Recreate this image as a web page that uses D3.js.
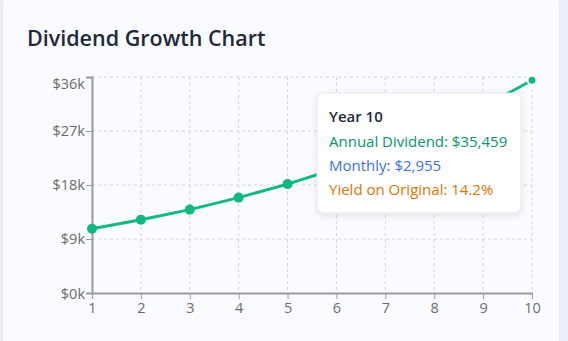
<!DOCTYPE html>
<html>
<head>
<meta charset="utf-8">
<script src="https://cdn.jsdelivr.net/npm/d3@7/dist/d3.min.js"></script>
<style>
  html, body { margin: 0; padding: 0; }
  body { width: 568px; height: 341px; background: #eceef9; overflow: hidden; font-family: "Open Sans", "Noto Sans", sans-serif; }
  .card { position: absolute; left: 2px; top: -8px; width: 558px; height: 360px; background: #fafbfe; border-radius: 12px; border: 1px solid #e6e9f3; box-sizing: border-box; }
  svg { position: absolute; left: 0; top: 0; }
</style>
</head>
<body>
<div class="card"></div>
<svg id="chart" width="568" height="341"></svg>
<script>
// Annual dividend income by year
const years = [1, 2, 3, 4, 5, 6, 7, 8, 9, 10];
const annualDividend = [10700, 12200, 13900, 15900, 18150, 20750, 23700, 27100, 31000, 35459];
const yTicks = [0, 9000, 18000, 27000, 36000];
const tipYear = 10;
const tipMonthly = 2955;
const tipYield = 14.2;

const FONT = "'Open Sans', 'Noto Sans', sans-serif";
const svg = d3.select("#chart");
const margin = { left: 92, right: 36, top: 77, bottom: 48 };
const W = 568, H = 341;

svg.append("text")
  .attr("x", 27).attr("y", 46)
  .attr("font-size", 21.5).attr("font-weight", 600)
  .attr("fill", "#1e293b")
  .attr("font-family", FONT)
  .text("Dividend Growth Chart");

const x = d3.scaleLinear().domain([1, 10]).range([margin.left, W - margin.right]);
const y = d3.scaleLinear().domain([0, 36000]).range([H - margin.bottom, margin.top]);

const grid = svg.append("g").attr("stroke", "#d4d4d8").attr("stroke-dasharray", "3 3").attr("stroke-width", 1);
grid.selectAll(".v").data(years).join("line")
  .attr("x1", d => x(d)).attr("x2", d => x(d))
  .attr("y1", y(36000)).attr("y2", y(0));
grid.selectAll(".h").data(yTicks.slice(1)).join("line")
  .attr("x1", x(1)).attr("x2", x(10))
  .attr("y1", d => y(d)).attr("y2", d => y(d));

const fmt = d => "$" + (d / 1000) + "k";
const yAxis = svg.append("g").attr("transform", `translate(${x(1)},0)`)
  .call(d3.axisLeft(y).tickValues(yTicks).tickFormat(fmt).tickSize(6).tickSizeOuter(6));
const xAxis = svg.append("g").attr("transform", `translate(0,${y(0)})`)
  .call(d3.axisBottom(x).tickValues(years).tickFormat(d3.format("d")).tickSize(6).tickSizeOuter(0));
[yAxis, xAxis].forEach(a => {
  a.selectAll("path,line").attr("stroke", "#9a9a9a").attr("stroke-width", 2);
  a.selectAll("text").attr("fill", "#6b6b6b").attr("font-size", 14.5)
    .attr("font-family", FONT);
});
xAxis.selectAll("line").attr("stroke-width", 1);
yAxis.selectAll("line").attr("stroke-width", 1);
yAxis.selectAll("text").attr("x", -7);
// keep the top label inside the plot's upper edge
yAxis.selectAll(".tick").filter(d => d === 36000).select("text").attr("dy", "0.32em").attr("y", 7);
yAxis.selectAll(".tick").filter(d => d === 0).select("text").attr("y", 1);
xAxis.selectAll("text").attr("y", 10);

const pts = years.map((yr, i) => ({ yr, v: annualDividend[i] }));
svg.append("path").datum(pts)
  .attr("fill", "none").attr("stroke", "#10b981").attr("stroke-width", 3)
  .attr("d", d3.line().x(d => x(d.yr)).y(d => y(d.v)));
svg.selectAll(".dot").data(pts.filter(d => d.yr !== tipYear)).join("circle")
  .attr("cx", d => x(d.yr)).attr("cy", d => y(d.v)).attr("r", 5)
  .attr("fill", "#10b981");
const active = pts.find(d => d.yr === tipYear);
svg.append("circle").attr("cx", x(active.yr)).attr("cy", y(active.v)).attr("r", 4.5)
  .attr("fill", "#10b981").attr("stroke", "#fff").attr("stroke-width", 2);

// tooltip
const tip = svg.append("g").attr("transform", "translate(317,93)");
const defs = svg.append("defs");
const f = defs.append("filter").attr("id", "sh").attr("x", "-20%").attr("y", "-20%").attr("width", "140%").attr("height", "140%");
f.append("feDropShadow").attr("dx", 0).attr("dy", 2).attr("stdDeviation", 3).attr("flood-color", "#000").attr("flood-opacity", 0.1);
tip.append("rect").attr("width", 204).attr("height", 120).attr("rx", 7)
  .attr("fill", "#fff").attr("stroke", "#e5e7eb").attr("filter", "url(#sh)");
const lines = [
  { t: "Year " + tipYear, c: "#1e293b", w: 600, y: 29 },
  { t: "Annual Dividend: " + d3.format("$,")(active.v), c: "#059669", w: 400, y: 54 },
  { t: "Monthly: " + d3.format("$,")(tipMonthly), c: "#3b6fe6", w: 400, y: 78 },
  { t: "Yield on Original: " + tipYield.toFixed(1) + "%", c: "#d97706", w: 400, y: 102 }
];
tip.selectAll("text").data(lines).join("text")
  .attr("x", 12).attr("y", d => d.y)
  .attr("fill", d => d.c).attr("font-weight", d => d.w).attr("font-size", 15)
  .attr("font-family", FONT)
  .text(d => d.t);
</script>
</body>
</html>
